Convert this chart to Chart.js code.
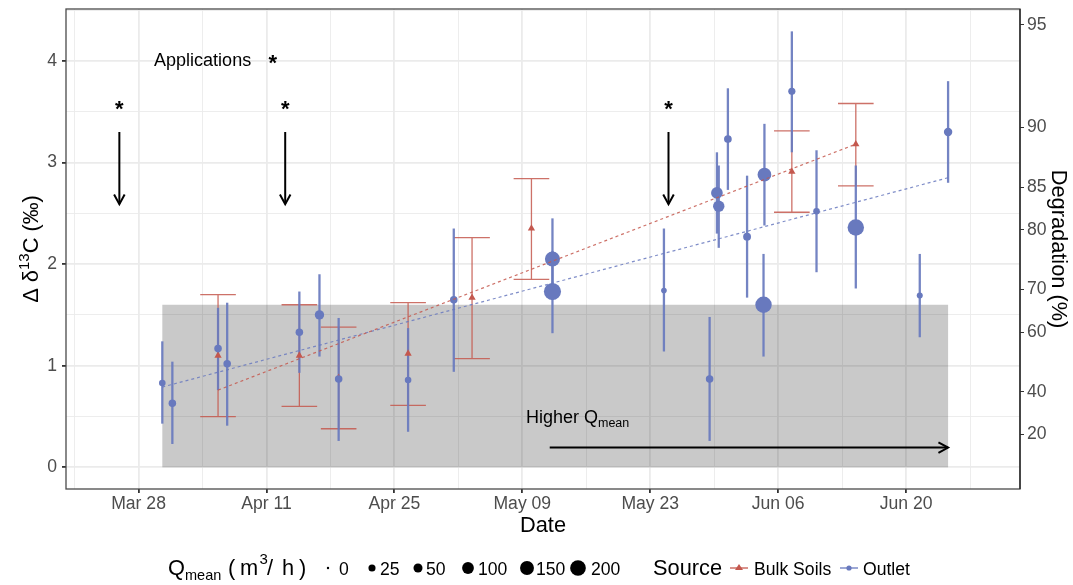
<!DOCTYPE html>
<html><head><meta charset="utf-8">
<script src="https://cdn.jsdelivr.net/npm/chart.js@4.4.1/dist/chart.umd.min.js"></script>
<style>html,body{margin:0;padding:0;background:#fff;}canvas{display:block;}</style>
</head><body>
<canvas id="c" width="1073" height="585"></canvas>
<script>
// ---------- data (day of year; Mar 28 = 87) ----------
const xTickDays   = [87, 101, 115, 129, 143, 157, 171];
const xTickLabels = ["Mar 28", "Apr 11", "Apr 25", "May 09", "May 23", "Jun 06", "Jun 20"];
const yTickValues = [0, 1, 2, 3, 4];
const degradationTicks = [20, 40, 60, 70, 80, 85, 90, 95];

const outletDay   = [89.6, 90.7, 95.7, 96.7, 104.6, 106.8, 108.9, 116.5, 121.5, 132.3, 132.3, 144.5, 149.5, 150.3, 150.5, 151.5, 153.6, 155.5, 155.4, 158.5, 161.2, 165.5, 172.5, 175.6];
const outletDelta = [0.83, 0.63, 1.17, 1.02, 1.33, 1.50, 0.87, 0.86, 1.65, 2.05, 1.73, 1.74, 0.87, 2.70, 2.57, 3.23, 2.27, 2.88, 1.60, 3.70, 2.52, 2.36, 1.69, 3.30];
const outletLo    = [0.43, 0.23, 0.76, 0.41, 0.93, 1.09, 0.26, 0.35, 0.94, 1.65, 1.32, 1.14, 0.26, 2.30, 2.16, 2.73, 1.67, 2.38, 1.09, 3.10, 1.92, 1.76, 1.28, 2.80];
const outletHi    = [1.24, 1.04, 1.57, 1.62, 1.73, 1.90, 1.47, 1.37, 2.35, 2.45, 2.13, 2.35, 1.48, 3.10, 2.97, 3.73, 2.87, 3.38, 2.10, 4.29, 3.12, 2.97, 2.10, 3.80];
const outletQ     = [20, 30, 30, 30, 30, 55, 30, 20, 30, 182, 245, 12, 30, 98, 92, 32, 34, 145, 222, 26, 20, 222, 15, 41];

const bulkDay   = [95.7, 104.6, 108.9, 116.5, 123.5, 130.0, 158.5, 165.5];
const bulkDelta = [1.10, 1.10, 0.88, 1.12, 1.67, 2.35, 2.91, 3.18];
const bulkLo    = [0.50, 0.60, 0.38, 0.61, 1.07, 1.85, 2.51, 2.77];
const bulkHi    = [1.70, 1.60, 1.38, 1.62, 2.26, 2.84, 3.31, 3.58];

const outletTrendDay = [89.6, 175.6];
const outletTrendDelta = [0.79, 2.85];
const bulkTrendDay = [95.7, 165.5];
const bulkTrendDelta = [0.76, 3.18];

const applicationDays = [84.9, 103.05, 145.0];
const highQDeltaMax = 1.6;
const highQArrowStartDay = 132.0;
const legendQ = [0, 25, 50, 100, 150, 200];
const rayleighEps = 1.453;

// ---------- style ----------
const FONT = '"Liberation Sans", Arial, Helvetica, sans-serif';
const BLUE = '#6879be';
const RED = '#c4584e';
const xMin = 79.06, xMax = 183.47, yMin = -0.213, yMax = 4.51;
const sizeR = q => (2.4 + 0.94 * Math.sqrt(q)) / 2;
const capHalfDays = 1.95;

function arrowHead(ctx, x, y, ang, len, spread) {
  ctx.beginPath();
  ctx.moveTo(x - len * Math.cos(ang - spread), y - len * Math.sin(ang - spread));
  ctx.lineTo(x, y);
  ctx.lineTo(x - len * Math.cos(ang + spread), y - len * Math.sin(ang + spread));
  ctx.stroke();
}

const deco = {
  id: 'deco',
  beforeDatasetsDraw(chart) {
    const { ctx, chartArea: a, scales: { x, y } } = chart;
    ctx.save();
    ctx.beginPath(); ctx.rect(a.left, a.top, a.right - a.left, a.bottom - a.top); ctx.clip();
    const x0 = x.getPixelForValue(Math.min(...outletDay));
    const x1 = x.getPixelForValue(Math.max(...outletDay));
    const y0 = y.getPixelForValue(0), y1 = y.getPixelForValue(highQDeltaMax);
    ctx.fillStyle = 'rgba(0,0,0,0.21)';
    ctx.fillRect(x0, y1, x1 - x0, y0 - y1);
    // red error bars with caps
    ctx.strokeStyle = 'rgba(196,88,78,0.85)';
    ctx.lineWidth = 1.3;
    bulkDay.forEach((d, i) => {
      const px = x.getPixelForValue(d);
      const pl = x.getPixelForValue(d - capHalfDays), pr = x.getPixelForValue(d + capHalfDays);
      const lo = y.getPixelForValue(bulkLo[i]), hi = y.getPixelForValue(bulkHi[i]);
      ctx.beginPath();
      ctx.moveTo(px, lo); ctx.lineTo(px, hi);
      ctx.moveTo(pl, lo); ctx.lineTo(pr, lo);
      ctx.moveTo(pl, hi); ctx.lineTo(pr, hi);
      ctx.stroke();
    });
    // blue error bars
    ctx.strokeStyle = 'rgba(104,121,190,0.92)';
    ctx.lineWidth = 2.3;
    outletDay.forEach((d, i) => {
      const px = x.getPixelForValue(d);
      ctx.beginPath();
      ctx.moveTo(px, y.getPixelForValue(outletLo[i]));
      ctx.lineTo(px, y.getPixelForValue(outletHi[i]));
      ctx.stroke();
    });
    ctx.restore();
  },
  afterDatasetsDraw(chart) {
    const { ctx, chartArea: a, scales: { x, y } } = chart;
    ctx.save();
    ctx.strokeStyle = '#000'; ctx.fillStyle = '#000';
    // application arrows
    ctx.lineWidth = 2;
    applicationDays.forEach(d => {
      const px = x.getPixelForValue(d);
      const yt = y.getPixelForValue(3.30), yb = y.getPixelForValue(2.59);
      ctx.beginPath(); ctx.moveTo(px, yt); ctx.lineTo(px, yb); ctx.stroke();
      arrowHead(ctx, px, yb, Math.PI / 2, 11, 0.5);
      ctx.font = 'bold 22px ' + FONT;
      ctx.textAlign = 'center'; ctx.textBaseline = 'alphabetic';
      ctx.fillText('*', px, y.getPixelForValue(3.55) + 9.5);
    });
    // "Applications *"
    ctx.font = '18px ' + FONT;
    ctx.textAlign = 'left';
    ctx.fillText('Applications', x.getPixelForValue(88.7), y.getPixelForValue(4.0) + 5.5);
    ctx.font = 'bold 22px ' + FONT; ctx.textAlign = 'center';
    ctx.fillText('*', x.getPixelForValue(101.7), y.getPixelForValue(4.0) + 9.5);
    // Higher Qmean arrow
    ctx.lineWidth = 2;
    const ay = y.getPixelForValue(0.195);
    const ax0 = x.getPixelForValue(highQArrowStartDay), ax1 = x.getPixelForValue(Math.max(...outletDay));
    ctx.beginPath(); ctx.moveTo(ax0, ay); ctx.lineTo(ax1, ay); ctx.stroke();
    arrowHead(ctx, ax1, ay, 0, 11, 0.5);
    ctx.textAlign = 'left';
    ctx.font = '18px ' + FONT;
    let tx = x.getPixelForValue(129.4), ty = y.getPixelForValue(0.5) + 6;
    ctx.fillText('Higher Q', tx, ty);
    tx += ctx.measureText('Higher Q').width;
    ctx.font = '12.5px ' + FONT;
    ctx.fillText('mean', tx, ty + 4);
    // panel frame
    ctx.lineWidth = 1.3; ctx.strokeStyle = '#4a4a4a';
    ctx.strokeRect(a.left, a.top, a.right - a.left, a.bottom - a.top);
    ctx.strokeStyle = '#222';
    ctx.beginPath(); ctx.moveTo(a.right, a.top); ctx.lineTo(a.right, a.bottom); ctx.stroke();
    ctx.restore();
  },
  afterDraw(chart) {
    const { ctx, chartArea: a } = chart;
    ctx.save();
    ctx.fillStyle = '#000';
    ctx.textBaseline = 'alphabetic';
    const cy = (a.top + a.bottom) / 2;
    // x title
    ctx.font = '21.8px ' + FONT; ctx.textAlign = 'center';
    ctx.fillText('Date', (a.left + a.right) / 2, 532);
    // left y title with superscript
    ctx.save();
    ctx.translate(37.5, cy); ctx.rotate(-Math.PI / 2);
    const parts = [['Δ δ', 21.8, 0], ['13', 15, -9], ['C (‰)', 21.8, 0]];
    let tot = 0;
    parts.forEach(p => { ctx.font = p[1] + 'px ' + FONT; tot += ctx.measureText(p[0]).width; });
    let px = -tot / 2; ctx.textAlign = 'left';
    parts.forEach(p => { ctx.font = p[1] + 'px ' + FONT; ctx.fillText(p[0], px, p[2]); px += ctx.measureText(p[0]).width; });
    ctx.restore();
    // right y title
    ctx.save();
    ctx.translate(1052, cy); ctx.rotate(Math.PI / 2);
    ctx.font = '21.8px ' + FONT; ctx.textAlign = 'center';
    ctx.fillText('Degradation (%)', 0, 0);
    ctx.restore();
    // legend: Qmean
    const by = 575, my = 568;
    ctx.textAlign = 'left';
    ctx.font = '21.8px ' + FONT; ctx.fillText('Q', 168, by);
    ctx.font = '14.5px ' + FONT; ctx.fillText('mean', 185, by + 5);
    ctx.font = '21.8px ' + FONT;
    ctx.fillText('(', 228, by); ctx.fillText('m', 240, by);
    ctx.font = '15px ' + FONT; ctx.fillText('3', 259.5, by - 11);
    ctx.font = '21.8px ' + FONT;
    ctx.fillText('/', 267, by); ctx.fillText('h', 282, by); ctx.fillText(')', 299, by);
    const dotX = [328, 372, 418, 468, 527, 578];
    const labX = [339, 380, 426, 478, 536, 591];
    ctx.font = '17.6px ' + FONT;
    legendQ.forEach((q, i) => {
      ctx.beginPath(); ctx.arc(dotX[i], my, sizeR(q), 0, Math.PI * 2); ctx.fill();
      ctx.fillText(String(q), labX[i], by);
    });
    // legend: Source
    ctx.font = '21.8px ' + FONT; ctx.fillText('Source', 653, by);
    ctx.lineWidth = 1.3;
    ctx.strokeStyle = RED; ctx.fillStyle = RED;
    ctx.beginPath(); ctx.moveTo(730, my); ctx.lineTo(748, my); ctx.stroke();
    ctx.beginPath(); ctx.moveTo(739, my - 4); ctx.lineTo(743, my + 2); ctx.lineTo(735, my + 2); ctx.closePath(); ctx.fill();
    ctx.strokeStyle = BLUE; ctx.fillStyle = BLUE;
    ctx.beginPath(); ctx.moveTo(840, my); ctx.lineTo(858, my); ctx.stroke();
    ctx.beginPath(); ctx.arc(849, my, 2.6, 0, Math.PI * 2); ctx.fill();
    ctx.fillStyle = '#000'; ctx.font = '17.6px ' + FONT;
    ctx.fillText('Bulk Soils', 754, by);
    ctx.fillText('Outlet', 863, by);
    ctx.restore();
  }
};

const isMajorX = v => xTickDays.includes(v);
const isMajorY = v => yTickValues.includes(v);
const noPad = s => { s.paddingTop = 0; s.paddingBottom = 0; s.paddingLeft = 0; s.paddingRight = 0; };

new Chart(document.getElementById('c'), {
  type: 'scatter',
  data: {
    datasets: [
      { type: 'line', data: bulkTrendDay.map((d, i) => ({ x: d, y: bulkTrendDelta[i] })),
        borderColor: 'rgba(196,88,78,0.85)', borderWidth: 1.2, borderDash: [3, 3], pointRadius: 0, fill: false },
      { type: 'line', data: outletTrendDay.map((d, i) => ({ x: d, y: outletTrendDelta[i] })),
        borderColor: 'rgba(104,121,190,0.85)', borderWidth: 1.2, borderDash: [3, 3], pointRadius: 0, fill: false },
      { label: 'Outlet', data: outletDay.map((d, i) => ({ x: d, y: outletDelta[i] })),
        pointRadius: ctx => sizeR(outletQ[ctx.dataIndex]), backgroundColor: BLUE, borderWidth: 0, pointHoverRadius: 0 },
      { label: 'Bulk Soils', data: bulkDay.map((d, i) => ({ x: d, y: bulkDelta[i] })),
        pointStyle: 'triangle', pointRadius: 4.2, backgroundColor: RED, borderWidth: 0 }
    ]
  },
  options: {
    responsive: false, animation: false, devicePixelRatio: 1,
    layout: { padding: { top: 9, left: 0, right: 0, bottom: 0 } },
    plugins: { legend: { display: false }, tooltip: { enabled: false } },
    scales: {
      x: {
        type: 'linear', min: xMin, max: xMax,
        afterBuildTicks: s => { const t = []; for (let v = 80; v <= xMax; v += 7) t.push({ value: v }); s.ticks = t; },
        afterFit: s => { s.height = 96; noPad(s); },
        ticks: { autoSkip: false, maxRotation: 0, color: '#4d4d4d', padding: 1,
          font: { family: FONT, size: 17.6 },
          callback: v => { const i = xTickDays.indexOf(v); return i >= 0 ? xTickLabels[i] : ''; } },
        grid: { color: '#ebebeb', lineWidth: c => isMajorX(c.tick.value) ? 1.8 : 0.9,
          tickColor: c => isMajorX(c.tick.value) ? '#333' : 'rgba(0,0,0,0)', tickLength: 4 },
        border: { display: false }
      },
      y: {
        type: 'linear', position: 'left', min: yMin, max: yMax,
        afterBuildTicks: s => { const t = []; for (let v = 0; v <= 4.5; v += 0.5) t.push({ value: v }); s.ticks = t; },
        afterFit: s => { s.width = 66; noPad(s); },
        ticks: { color: '#4d4d4d', padding: 5, font: { family: FONT, size: 17.6 },
          callback: v => isMajorY(v) ? String(v) : '' },
        grid: { color: '#ebebeb', lineWidth: c => isMajorY(c.tick.value) ? 1.8 : 0.9,
          tickColor: c => isMajorY(c.tick.value) ? '#333' : 'rgba(0,0,0,0)', tickLength: 4 },
        border: { display: false }
      },
      y2: {
        type: 'linear', position: 'right', min: yMin, max: yMax,
        afterBuildTicks: s => { s.ticks = degradationTicks.map(d => ({ value: -rayleighEps * Math.log(1 - d / 100) })); },
        afterFit: s => { s.width = 53; noPad(s); },
        ticks: { color: '#4d4d4d', padding: 3, font: { family: FONT, size: 17.6 },
          callback: (v, i) => String(degradationTicks[i]) },
        grid: { drawOnChartArea: false, tickColor: '#333', tickLength: 4 },
        border: { display: false }
      }
    }
  },
  plugins: [deco]
});
</script>
</body></html>
